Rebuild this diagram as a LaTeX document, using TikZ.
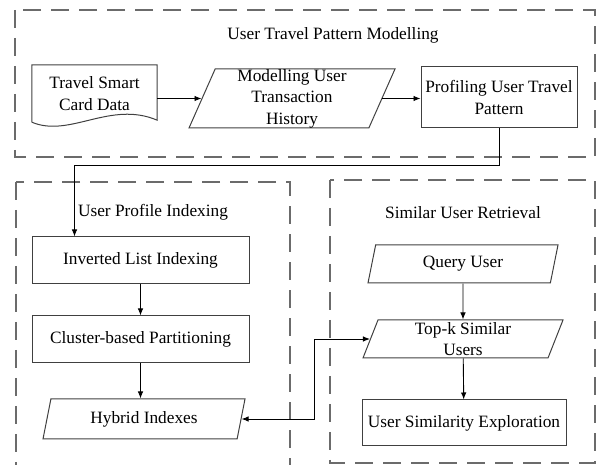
\documentclass[tikz,border=0pt]{standalone}
\usepackage{fontspec}
\setmainfont{Liberation Serif}
\usetikzlibrary{shapes.geometric,arrows.meta,calc}
\definecolor{frame}{rgb}{0.42,0.42,0.42}
\definecolor{edge}{rgb}{0.25,0.25,0.25}
\tikzset{
  group/.style={draw=frame, line width=1.6pt, dash pattern=on 18pt off 10pt},
  procbox/.style={draw=edge, line width=1pt, rectangle, align=center, inner sep=1pt},
  iobox/.style={draw=edge, line width=1pt, trapezium, trapezium left angle=66,
    trapezium right angle=114, trapezium stretches body, align=center, inner sep=1pt},
  arr/.style={draw=black, line width=0.9pt, -{Latex[length=7pt,width=5.5pt]}},
  arrboth/.style={draw=black, line width=0.9pt,
    {Latex[length=7pt,width=5.5pt]}-{Latex[length=7pt,width=5.5pt]}},
}

\begin{document}
\begin{tikzpicture}[x=1pt, y=-1pt, font=\fontsize{17.3}{21.5}\selectfont]
\useasboundingbox (0,0) rectangle (598,465);

% user travel pattern modelling
\draw[group] (15,10) rectangle (595,157);
\node (titleA) at (333,35) {User Travel Pattern Modelling};
\node[align=center, minimum width=125pt, minimum height=57pt, inner sep=0pt] (data) at (94.5,93.5) {Travel Smart\\Card Data};
\draw[draw=edge, line width=1pt] (data.south west) -- (data.north west) -- (data.north east)
  -- ($(data.south east)+(0,-2)$) .. controls ($(data.south east)+(-47,-22)$) and ($(data.south west)+(38,16)$) .. (data.south west);
\node[iobox, minimum width=206pt, minimum height=59pt, inner sep=0pt] (model) at (292,98.5) {Modelling User\\Transaction\\History};
\node[procbox, minimum width=156pt, minimum height=61pt] (profile) at (499,97.5) {Profiling User Travel\\Pattern};
\draw[arr] (data.east |- model.west) -- (model.west);
\draw[arr] (model.east) -- (profile.west |- model.east);

% user profile indexing
\draw[group] (16,182) rectangle (290,472);
\node (titleB) at (153,212) {User Profile Indexing};
\node[procbox, minimum width=217pt, minimum height=47pt] (inverted) at (140.5,260.5) {Inverted List Indexing};
\node[procbox, minimum width=217pt, minimum height=47pt] (cluster) at (140.5,339.5) {Cluster-based Partitioning};
\node[iobox, minimum width=202pt, minimum height=40pt] (hybrid) at (144,419) {Hybrid Indexes};
\draw[arr] (profile.south) -- ++(0,37) -| ([xshift=43pt]inverted.north west);
\draw[arr] (inverted) -- (cluster);
\draw[arr] (cluster.south) -- (cluster.south |- hybrid.north);

% similar user retrieval
\draw[group] (330,180) rectangle (595,463);
\node (titleC) at (463,213) {Similar User Retrieval};
\node[iobox, minimum width=190pt, minimum height=38pt] (query) at (463,264) {Query User};
\node[iobox, minimum width=200pt, minimum height=38pt, inner sep=0pt] (topk) at (463,339) {Top-k Similar\\Users};
\node[procbox, minimum width=204pt, minimum height=46pt] (explore) at (464,423) {User Similarity Exploration};
\draw[arr] (query) -- (topk);
\draw[arr] (topk) -- (explore);
\draw[arrboth] (topk.west) -- ++(-56,0) |- (hybrid.east);
\end{tikzpicture}
\end{document}
